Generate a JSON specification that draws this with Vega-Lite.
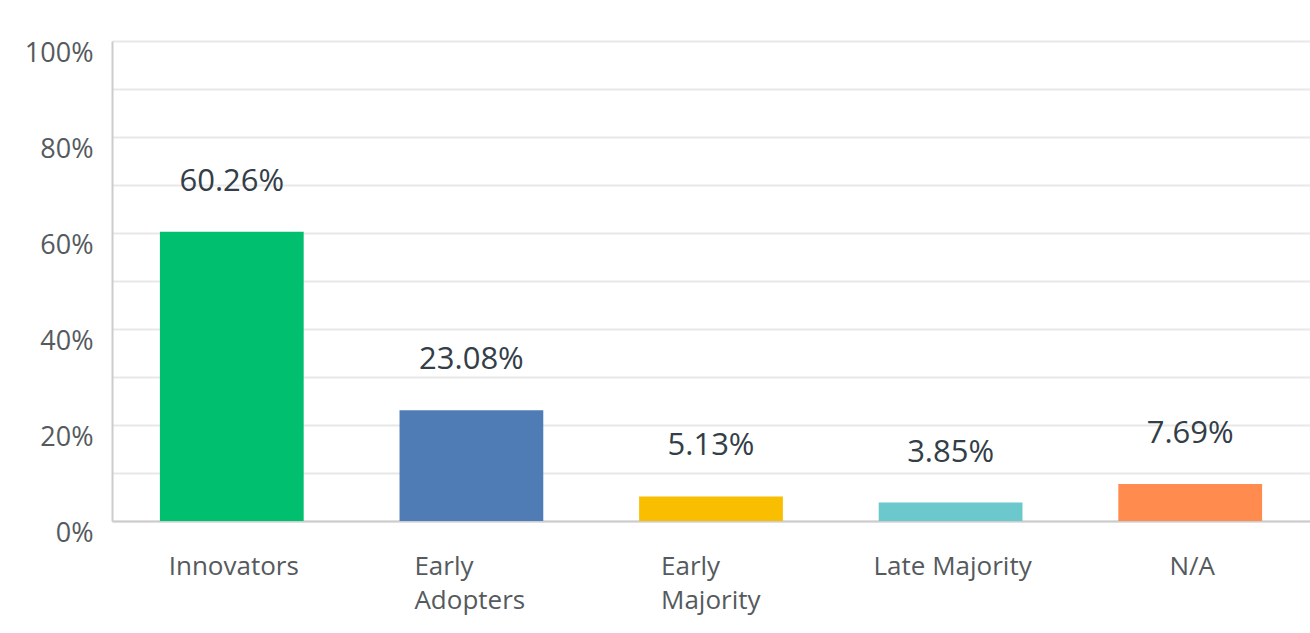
{
  "$schema": "https://vega.github.io/schema/vega-lite/v6.json",
  "width": 1198,
  "height": 480,
  "autosize": "none",
  "padding": {"left": 112, "top": 41, "right": 0, "bottom": 112},
  "background": "white",
  "config": {
    "view": {"stroke": null},
    "font": "Open Sans"
  },
  "data": {
    "values": [
      {"category": "Innovators", "pct": 60.26, "label": "60.26%"},
      {"category": "Early Adopters", "pct": 23.08, "label": "23.08%"},
      {"category": "Early Majority", "pct": 5.13, "label": "5.13%"},
      {"category": "Late Majority", "pct": 3.85, "label": "3.85%"},
      {"category": "N/A", "pct": 7.69, "label": "7.69%"}
    ]
  },
  "encoding": {
    "x": {
      "field": "category",
      "type": "nominal",
      "sort": null,
      "scale": {"paddingInner": 0.4, "paddingOuter": 0.2},
      "axis": {
        "title": null,
        "labelAngle": 0,
        "labelFontSize": 26,
        "labelColor": "#555a5e",
        "labelFont": "Open Sans",
        "labelPadding": 32,
        "labelBaseline": "top",
        "labelLineHeight": 34,
        "labelAlign": {"condition": {"test": "datum.value == 'Early Adopters' || datum.value == 'Early Majority'", "value": "left"}, "value": "center"},
        "labelOffset": {"condition": [{"test": "datum.value == 'Early Adopters'", "value": -57}, {"test": "datum.value == 'Early Majority'", "value": -50}], "value": 2},
        "labelExpr": "datum.value == 'Early Adopters' ? ['Early', 'Adopters'] : datum.value == 'Early Majority' ? ['Early', 'Majority'] : datum.value",
        "ticks": false,
        "domainColor": "#cccccc",
        "domainWidth": 2,
        "grid": false
      }
    },
    "y": {
      "field": "pct",
      "type": "quantitative",
      "scale": {"domain": [0, 100], "nice": false},
      "axis": {
        "title": null,
        "values": [0, 10, 20, 30, 40, 50, 60, 70, 80, 90, 100],
        "labelExpr": "datum.value % 20 == 0 ? datum.value + '%' : ''",
        "labelFontSize": 27,
        "labelColor": "#555a5e",
        "labelFont": "Open Sans",
        "labelOffset": 12,
        "labelPadding": 19,
        "ticks": false,
        "domainColor": "#cccccc",
        "domainWidth": 2,
        "gridColor": "#e8e8e8",
        "gridWidth": 2
      }
    }
  },
  "layer": [
    {
      "mark": {"type": "bar"},
      "encoding": {
        "color": {
          "field": "category",
          "type": "nominal",
          "sort": null,
          "legend": null,
          "scale": {
            "domain": ["Innovators", "Early Adopters", "Early Majority", "Late Majority", "N/A"],
            "range": ["#00bf6f", "#507cb6", "#f9be00", "#6bc8cd", "#ff8b4f"]
          }
        }
      }
    },
    {
      "mark": {"type": "text", "dy": -50, "baseline": "middle", "fontSize": 31, "color": "#333e48", "font": "Open Sans"},
      "encoding": {
        "text": {"field": "label"}
      }
    }
  ]
}
